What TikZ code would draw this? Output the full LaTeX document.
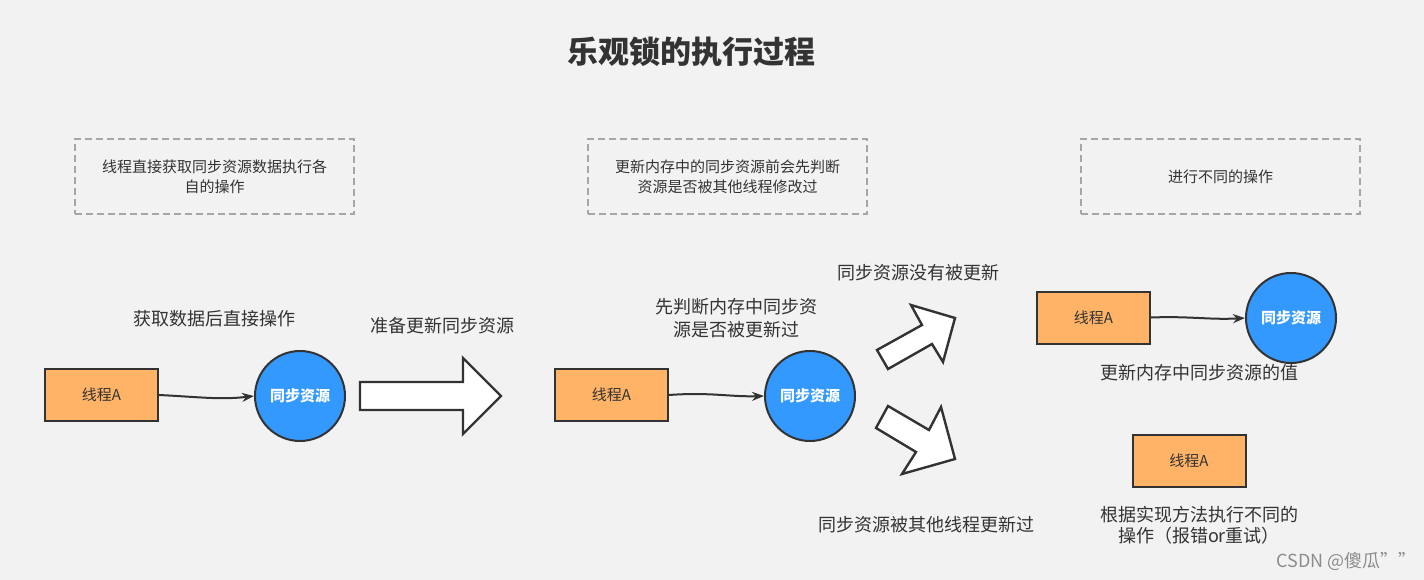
\documentclass[tikz,border=0pt]{standalone}
\usepackage{fontspec}
\setmainfont{Noto Sans CJK SC}
\usetikzlibrary{arrows.meta}
\definecolor{bg}{HTML}{F2F2F2}
\definecolor{org}{HTML}{FFB366}
\definecolor{blu}{HTML}{3399FF}
\definecolor{ink}{HTML}{333333}
\definecolor{dash}{HTML}{A6A6A6}
\begin{document}
\begin{tikzpicture}[x=1pt,y=-1pt,
  thr/.style={draw=ink,line width=2pt,fill=org,minimum width=113pt,minimum height=52pt,font=\fontsize{15}{17}\selectfont,text=ink},
  res/.style={draw=ink,line width=2pt,fill=blu,circle,minimum size=90pt,font=\bfseries\fontsize{15}{17}\selectfont,text=white},
  note/.style={draw=dash,line width=2pt,dash pattern=on 7pt off 4pt,minimum width=279pt,minimum height=75pt,align=center,font=\fontsize{15}{20}\selectfont,text=ink},
  lbl/.style={font=\fontsize{18}{23}\selectfont,text=ink,align=center},
  con/.style={draw=ink,line width=2pt,-{Stealth[length=12pt,width=9pt]}},
  big/.style={draw=ink,line width=2.4pt,fill=white,line join=miter}]
\fill[bg] (0,0) rectangle (1424,580);
\node[font=\bfseries\fontsize{31}{35}\selectfont,text=ink] (title) at (691,52) {乐观锁的执行过程};
\node[note] (n1) at (214.5,176.5) {线程直接获取同步资源数据执行各\\自的操作};
\node[note] (n2) at (727.5,176.5) {更新内存中的同步资源前会先判断\\资源是否被其他线程修改过};
\node[note] (n3) at (1220.5,176.5) {进行不同的操作};
\node[thr] (a1) at (101.5,395) {线程A};
\node[res] (r1) at (300,396) {同步资源};
\node[thr] (a2) at (611.5,395) {线程A};
\node[res] (r2) at (810,396) {同步资源};
\node[thr] (a3) at (1093.5,317.5) {线程A};
\node[res] (r3) at (1291,318) {同步资源};
\node[thr] (a4) at (1189,460.5) {线程A};
\draw[con] (a1.east) .. controls (200,397) and (220,400) .. (r1.west);
\draw[con] (a2.east) .. controls (710,392) and (730,397) .. (r2.west);
\draw[con] (a3.east) .. controls (1190,316) and (1210,320) .. (r3.west);
\draw[big] (360,382) -- (463,382) -- (463,358) -- (501,396) -- (463,434) -- (463,410) -- (360,410) -- cycle;
\draw[big] (877,350) -- (888,369) -- (932,344) -- (943,362) -- (955,318) -- (911,305) -- (922,325) -- cycle;
\draw[big] (876,428) -- (888,406) -- (929,430) -- (941,407) -- (955,459) -- (902,474) -- (916,452) -- cycle;
\node[lbl] (l1) at (214,319) {获取数据后直接操作};
\node[lbl] (l2) at (442,326) {准备更新同步资源};
\node[lbl] (l3) at (736,318) {先判断内存中同步资\\源是否被更新过};
\node[lbl] (l4) at (918,273) {同步资源没有被更新};
\node[lbl] (l5) at (926,525) {同步资源被其他线程更新过};
\node[lbl] (l6) at (1199,373) {更新内存中同步资源的值};
\node[lbl,font=\fontsize{18}{21}\selectfont] (l7) at (1199,525) {根据实现方法执行不同的\\操作（报错or重试）};
\node[font=\fontsize{18}{20}\selectfont,text=gray!90,anchor=east] (wm) at (1420,561) {CSDN @傻瓜""};
\end{tikzpicture}
\end{document}
